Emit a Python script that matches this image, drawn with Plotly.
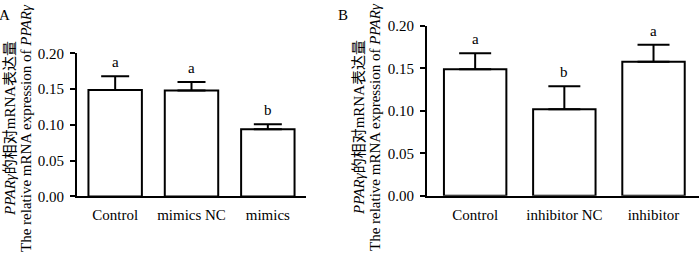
import plotly.graph_objects as go

cats_a = ["Control", "mimics NC", "mimics"]
vals_a = [0.149, 0.148, 0.094]
err_a = [0.019, 0.012, 0.007]
sig_a = ["a", "a", "b"]

cats_b = ["Control", "inhibitor NC", "inhibitor"]
vals_b = [0.149, 0.102, 0.158]
err_b = [0.019, 0.027, 0.020]
sig_b = ["a", "b", "a"]

yticks = [0.00, 0.05, 0.10, 0.15, 0.20]
ytitle_cn = "<i>PPARγ</i>的相对mRNA表达量"
ytitle_en = "The relative mRNA expression of <i>PPARγ</i>"
panels = ["A", "B"]

FONT = "Liberation Serif, Times New Roman, Noto Sans CJK SC"
W, H = 700, 255

fig = go.Figure()

def add_panel(cats, vals, errs, xa, ya, capw):
    fig.add_trace(go.Bar(
        x=cats, y=vals, xaxis=xa, yaxis=ya, width=0.7,
        marker=dict(color="white", line=dict(color="black", width=2)),
        error_y=dict(type="data", array=errs, arrayminus=[0] * len(errs),
                     symmetric=False, color="black", thickness=2, width=capw),
        showlegend=False, hoverinfo="skip"))

add_panel(cats_a, vals_a, err_a, "x", "y", 14)
add_panel(cats_b, vals_b, err_b, "x2", "y2", 16)

def px_x(p):
    return p / W

def px_y(p):
    return 1 - p / H

axis_common = dict(showline=True, linecolor="black", linewidth=2, mirror=False,
                   showgrid=False, zeroline=False, fixedrange=True,
                   tickfont=dict(family=FONT, size=15, color="black"))
yaxis_common = dict(range=[0, 0.2], tickvals=yticks, tickformat=".2f",
                    ticks="outside", ticklen=5, tickwidth=2, tickcolor="black",
                    ticklabelstandoff=3, **axis_common)
xaxis_common = dict(ticks="", ticklabelstandoff=4, **axis_common)

fig.update_layout(
    autosize=True, margin=dict(l=0, r=0, t=0, b=0),
    paper_bgcolor="white", plot_bgcolor="white",
    font=dict(family=FONT, size=15, color="black"),
    xaxis=dict(domain=[px_x(77), px_x(306)], anchor="y", range=[-0.5, 2.5],
               **xaxis_common),
    yaxis=dict(domain=[px_y(201), px_y(48.5)], anchor="x", **yaxis_common),
    xaxis2=dict(domain=[px_x(427), px_x(699)], anchor="y2", range=[-0.54, 2.51],
                **xaxis_common),
    yaxis2=dict(domain=[px_y(200.3), px_y(19.3)], anchor="x2", **yaxis_common),
)

anns = []
for cats, vals, errs, sigs, xr, yr in [(cats_a, vals_a, err_a, sig_a, "x", "y"),
                                        (cats_b, vals_b, err_b, sig_b, "x2", "y2")]:
    for c, v, e, s in zip(cats, vals, errs, sigs):
        anns.append(dict(x=c, y=v + e, xref=xr, yref=yr, text=s, showarrow=False,
                         yanchor="bottom", yshift=4, font=dict(family=FONT, size=15)))

# y-axis titles (two lines, rotated)
for (x1, y1), (x2, y2) in [((10, 129), (26, 128)), ((359, 128), (375, 127))]:
    anns.append(dict(x=px_x(x1), y=px_y(y1), xref="paper", yref="paper",
                     text=ytitle_cn, textangle=-90, showarrow=False,
                     xanchor="center", yanchor="middle", font=dict(family=FONT, size=15)))
    anns.append(dict(x=px_x(x2), y=px_y(y2), xref="paper", yref="paper",
                     text=ytitle_en, textangle=-90, showarrow=False,
                     xanchor="center", yanchor="middle", font=dict(family=FONT, size=15)))

for lbl, x in zip(panels, [4, 343]):
    anns.append(dict(x=px_x(x), y=px_y(8), xref="paper", yref="paper", text=lbl,
                     showarrow=False, xanchor="center", yanchor="middle",
                     font=dict(family=FONT, size=15)))

fig.update_layout(annotations=anns)
fig.write_html("out.html", default_width="100vw", default_height="100vh",
               config={"displayModeBar": False, "responsive": True},
               post_script="document.body.style.margin='0';document.body.style.overflow='hidden';")
